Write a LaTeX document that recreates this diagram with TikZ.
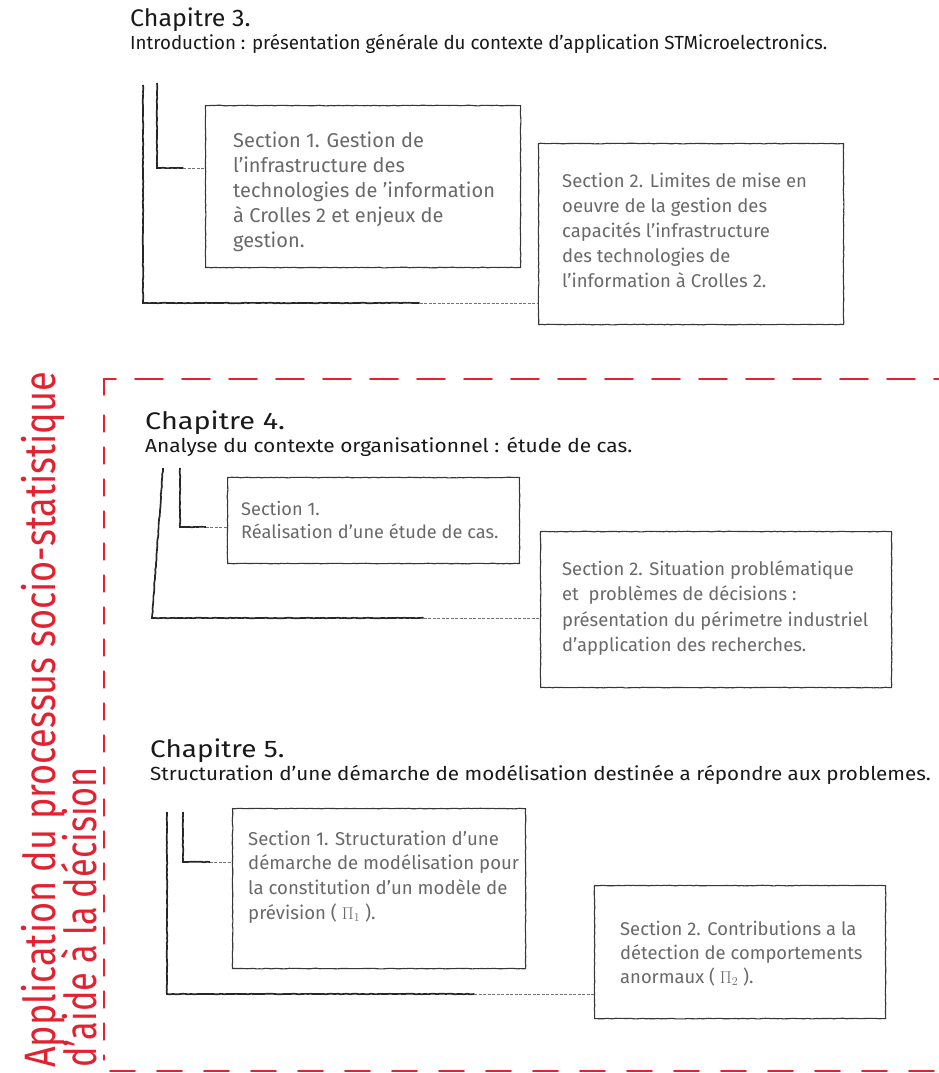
\documentclass[tikz,border=0pt]{standalone}
\usepackage{fontspec}
\setmainfont{Fira Sans}
\newfontfamily\redfont[FakeStretch=0.82]{Fira Sans}
\usetikzlibrary{decorations.pathmorphing,calc}
\definecolor{redline}{RGB}{226,34,48}
\definecolor{boxgray}{RGB}{55,55,55}
\definecolor{txtgray}{RGB}{105,105,105}
\tikzset{
  sk/.style={decorate,decoration={random steps,segment length=3pt,amplitude=0.3pt}},
  box/.style={draw=boxgray,line width=1.1pt,rectangle,anchor=north west,inner sep=0pt,sk},
  stxt/.style={anchor=base west,inner sep=0pt,text=txtgray},
  chap/.style={anchor=base west,inner sep=0pt,text=black!90,font=\fontsize{24}{28}\selectfont},
  subt/.style={anchor=base west,inner sep=0pt,text=black!90,font=\fontsize{19}{23}\selectfont},
  brk/.style={draw=black!85,line width=1.7pt,sk},
  brkthin/.style={draw=black!55,line width=0.6pt,dash pattern=on 3pt off 1.5pt},
  reddash/.style={draw=redline,line width=1.8pt,line cap=round},
  redtxt/.style={anchor=base west,inner sep=0pt,rotate=90,text=redline,font=\fontsize{44}{48}\redfont},
}
\begin{document}
\begin{tikzpicture}[x=1pt,y=-1pt]
\useasboundingbox (0,0) rectangle (939,1073);
\fill[white] (0,0) rectangle (939,1073);

% ---------- red frame ----------
\draw[reddash] (104,395) -- (104,379) -- (116,379);
\draw[reddash,dash pattern=on 28pt off 19pt] (135,379) -- (939,379);
\draw[reddash,line width=1.3pt,dash pattern=on 17pt off 15pt] (104,415) -- (104,1060);
\draw[reddash,dash pattern=on 25pt off 22pt] (110,1071) -- (939,1071);

\node[redtxt] (red1) at (55,1068) {Application du processus socio-statistique};
\node[redtxt] (red2) at (96,1068) {\scalebox{0.95}[1]{d’aide à la décision}};

% ---------- Chapitre 3 ----------
\node[chap] (c3) at (130,27) {\scalebox{1.04}[1]{Chapitre 3.}};
\node[subt] (c3s) at (130,50) {\scalebox{0.985}[1]{Introduction : présentation générale du contexte d’application STMicroelectronics.}};

\node[box,minimum width=315pt,minimum height=162pt] (b31) at (205,105) {};
\node[box,minimum width=305pt,minimum height=181pt] (b32) at (538,143) {};
\node[stxt] (t31) at (233,147) {\parbox[t]{300pt}{\fontsize{20}{25.2}\selectfont
Section 1. Gestion de\\
l’infrastructure des\\
technologies de ’information\\
à Crolles 2 et enjeux de\\
gestion.}};
\node[stxt] (t32) at (562,187) {\parbox[t]{300pt}{\fontsize{18.5}{25}\selectfont
Section 2. Limites de mise en\\
oeuvre de la gestion des\\
capacités l’infrastructure\\
des technologies de\\
l’information à Crolles 2.}};

\coordinate (o3a) at (143,85);
\coordinate (o3b) at (143,303);
\coordinate (i3a) at (157,83);
\coordinate (i3b) at (157,168);
\draw[brk] (o3a) -- (o3b) -- ($(o3b)!0.7!(o3b -| b32.west)$);
\draw[brkthin] ($(o3b)!0.7!(o3b -| b32.west)$) -- (o3b -| b32.west);
\draw[brk] (i3a) -- (i3b) -- ($(i3b)!0.55!(i3b -| b31.west)$);
\draw[brkthin] ($(i3b)!0.55!(i3b -| b31.west)$) -- (i3b -| b31.west);

% ---------- Chapitre 4 ----------
\node[chap] (c4) at (145,429) {\scalebox{1.2}[1]{Chapitre 4.}};
\node[subt] (c4s) at (145,452) {\scalebox{1.1}[1]{Analyse du contexte organisationnel : étude de cas.}};

\node[box,minimum width=292pt,minimum height=86pt] (b41) at (227,477) {};
\node[box,minimum width=351pt,minimum height=156pt] (b42) at (540,531) {};
\node[stxt] (t41) at (241,515) {\parbox[t]{300pt}{\fontsize{18.2}{23}\selectfont
Section 1.\\
Réalisation d’une étude de cas.}};
\node[stxt] (t42) at (562,575) {\parbox[t]{340pt}{\fontsize{18.4}{25.5}\selectfont
Section 2. Situation problématique\\
et\ \ problèmes de décisions :\\
présentation du périmetre industriel\\
d’application des recherches.}};

\coordinate (o4a) at (163,468);
\coordinate (o4b) at (152,618);
\coordinate (i4a) at (180,468);
\coordinate (i4b) at (180,527);
\draw[brk] (o4a) -- (o4b) -- ($(o4b)!0.7!(o4b -| b42.west)$);
\draw[brkthin] ($(o4b)!0.7!(o4b -| b42.west)$) -- (o4b -| b42.west);
\draw[brk] (i4a) -- (i4b) -- ($(i4b)!0.55!(i4b -| b41.west)$);
\draw[brkthin] ($(i4b)!0.55!(i4b -| b41.west)$) -- (i4b -| b41.west);

% ---------- Chapitre 5 ----------
\node[chap] (c5) at (150,757) {\scalebox{1.16}[1]{Chapitre 5.}};
\node[subt] (c5s) at (150,780) {\scalebox{1.085}[1]{Structuration d’une démarche de modélisation destinée a répondre aux problemes.}};

\node[box,minimum width=293pt,minimum height=160pt] (b51) at (232,808) {};
\node[box,minimum width=291pt,minimum height=133pt] (b52) at (594,885) {};
\node[stxt] (t51) at (248,845) {\parbox[t]{300pt}{\fontsize{18.6}{24.7}\selectfont
Section 1. Structuration d’une\\
démarche de modélisation pour\\
la constitution d’un modèle de\\
prévision ( $\Pi_{1}$ ).}};
\node[stxt] (t52) at (620,935) {\parbox[t]{300pt}{\fontsize{18.4}{24}\selectfont
Section 2. Contributions a la\\
détection de comportements\\
anormaux ( $\Pi_{2}$ ).}};

\coordinate (o5a) at (167,812);
\coordinate (o5b) at (167,994);
\coordinate (i5a) at (183,812);
\coordinate (i5b) at (183,862);
\draw[brk] (o5a) -- (o5b) -- ($(o5b)!0.72!(o5b -| b52.west)$);
\draw[brkthin] ($(o5b)!0.72!(o5b -| b52.west)$) -- (o5b -| b52.west);
\draw[brk] (i5a) -- (i5b) -- ($(i5b)!0.55!(i5b -| b51.west)$);
\draw[brkthin] ($(i5b)!0.55!(i5b -| b51.west)$) -- (i5b -| b51.west);
\end{tikzpicture}
\end{document}
